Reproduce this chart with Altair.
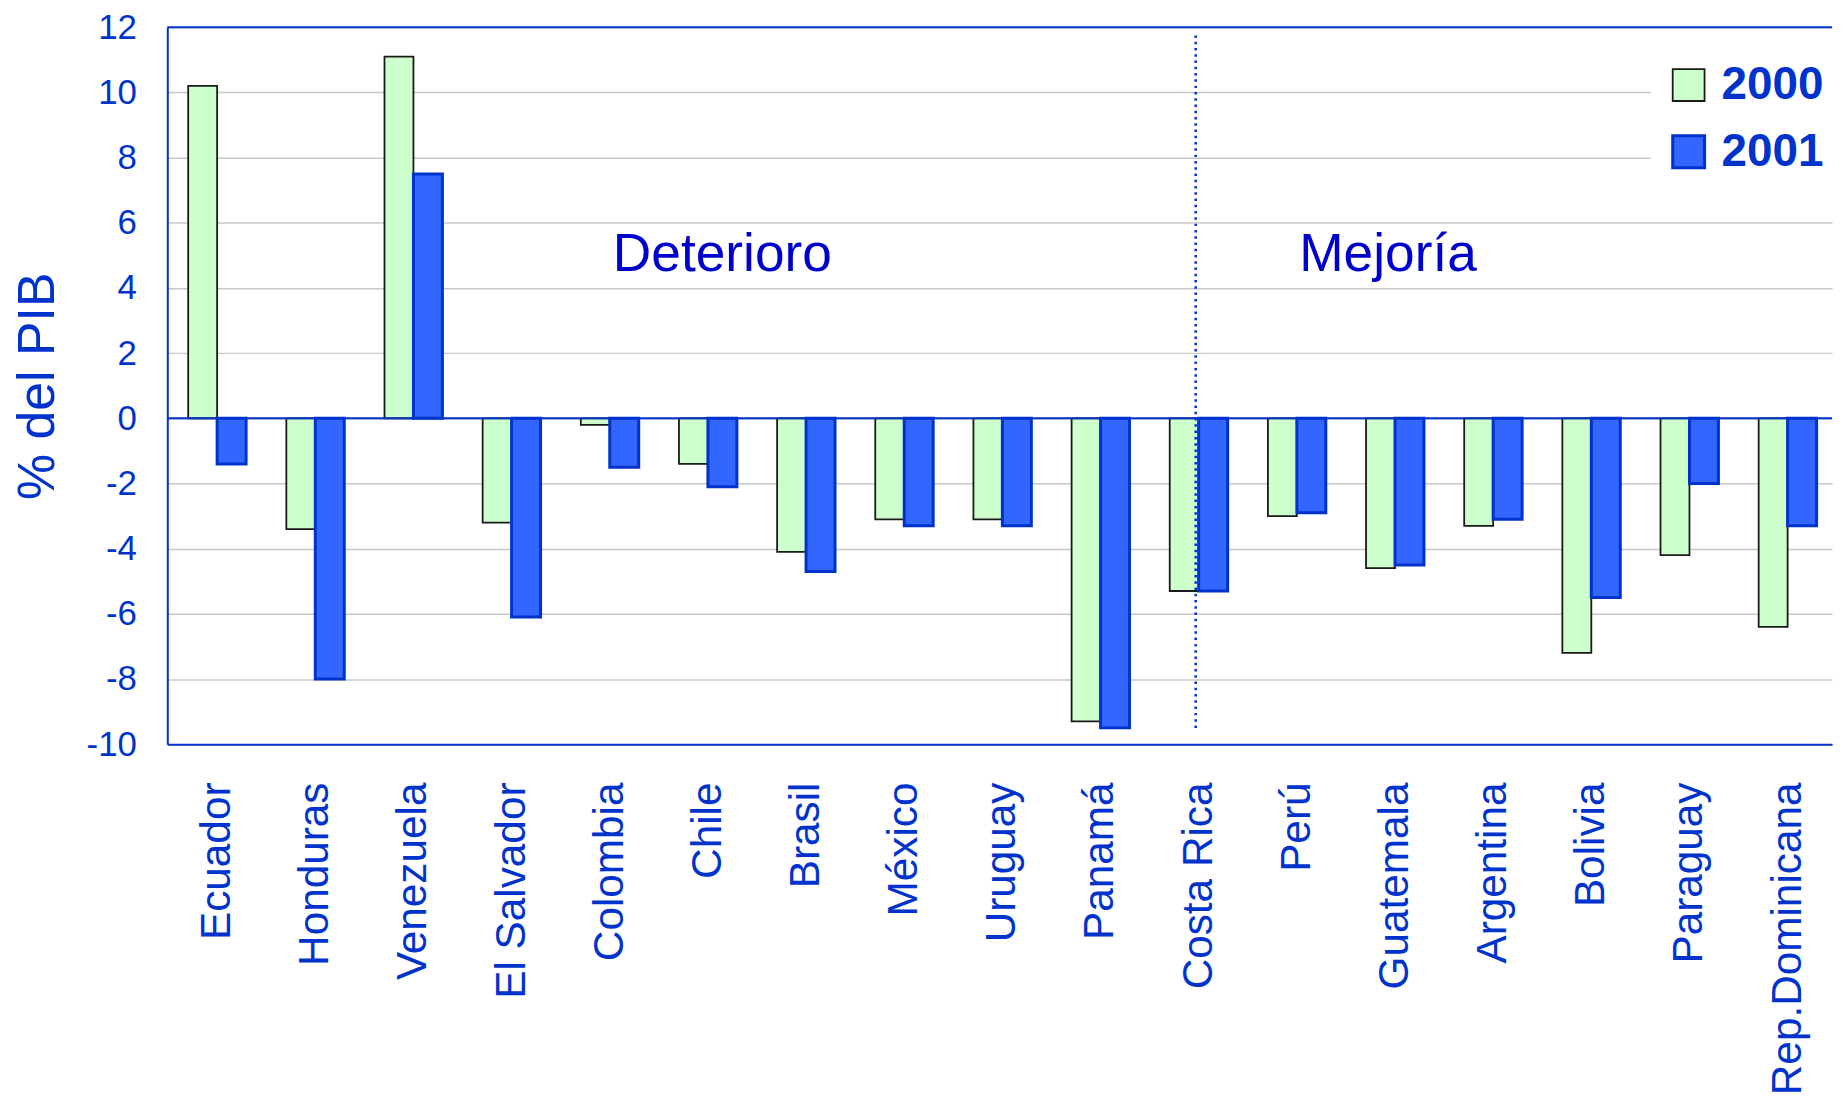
import altair as alt
import pandas as pd

countries = ["Ecuador", "Honduras", "Venezuela", "El Salvador", "Colombia", "Chile",
             "Brasil", "México", "Uruguay", "Panamá", "Costa Rica", "Perú",
             "Guatemala", "Argentina", "Bolivia", "Paraguay", "Rep.Dominicana"]
v2000 = [10.2, -3.4, 11.1, -3.2, -0.2, -1.4, -4.1, -3.1, -3.1, -9.3, -5.3, -3.0, -4.6, -3.3, -7.2, -4.2, -6.4]
v2001 = [-1.4, -8.0, 7.5, -6.1, -1.5, -2.1, -4.7, -3.3, -3.3, -9.5, -5.3, -2.9, -4.5, -3.1, -5.5, -2.0, -3.3]
years = ["2000", "2001"]
y_ticks = [-10, -8, -6, -4, -2, 0, 2, 4, 6, 8, 10, 12]

ann_text = ["Deterioro", "Mejoría"]
ann_country = ["Chile", "Guatemala"]
ann_y = [5.0, 5.0]
ann_dx = [14.5, -7]

divider_country = ["Costa Rica"]
divider_top = [11.75]
divider_bottom = [-9.6]

FONT = "Liberation Sans"
BLUE = "#0033CC"

rows = []
for c, a, b in zip(countries, v2000, v2001):
    rows.append({"country": c, "year": years[0], "value": a})
    rows.append({"country": c, "year": years[1], "value": b})
df = pd.DataFrame(rows)

div_df = pd.DataFrame({"country": divider_country, "top": divider_top, "bottom": divider_bottom})
hlines = pd.DataFrame({"y": [0, 12]})

x_scale = alt.Scale(domain=countries, paddingInner=0.41, paddingOuter=0.185, align=0.575)
y_scale = alt.Scale(domain=[-10, 12], nice=False, zero=False)

x_enc = alt.X("country:N", scale=x_scale, sort=countries,
              axis=alt.Axis(title=None, labelAngle=-90, labelFontSize=42.5, labelFont=FONT,
                            labelColor=BLUE, ticks=False, tickSize=0, labelPadding=38,
                            labelLimit=500,
                            domain=True, domainColor=BLUE, domainWidth=2, grid=False,
                            labelBaseline="middle", labelAlign="right"))
y_enc = alt.Y("value:Q", scale=y_scale,
              axis=alt.Axis(title="% del PIB", values=y_ticks, labelFontSize=35, labelFont=FONT,
                            labelExpr="'' + datum.value",
                            labelColor=BLUE, ticks=False, tickSize=0, labelPadding=31,
                            domain=True, domainColor=BLUE, domainWidth=2,
                            grid=True, gridColor="#C8C8C8", gridWidth=1.5,
                            titleFontSize=52, titleFont=FONT, titleColor=BLUE,
                            titleFontWeight="normal", titleAngle=270, titleX=-114, titleY=360,
                            titleBaseline="alphabetic", titleAlign="center"))

bars = alt.Chart(df).mark_bar().encode(
    x=x_enc,
    xOffset=alt.XOffset("year:N", scale=alt.Scale(domain=years, paddingInner=0, paddingOuter=0)),
    y=y_enc,
    fill=alt.Fill("year:N", scale=alt.Scale(domain=years, range=["#CCFFCC", "#3366FF"]),
                  legend=alt.Legend(title=None, orient="none", legendX=1490, legendY=20)),
    stroke=alt.Stroke("year:N", scale=alt.Scale(domain=years, range=["#1A1A1A", BLUE]),
                      legend=alt.Legend(title=None, orient="none", legendX=1490, legendY=20)),
    strokeWidth=alt.StrokeWidth("year:N", scale=alt.Scale(domain=years, range=[1.8, 3]), legend=None),
)

rules = alt.Chart(hlines).mark_rule(color=BLUE, strokeWidth=2).encode(y=alt.Y("y:Q", scale=y_scale))

divider = alt.Chart(div_df).mark_rule(color=BLUE, strokeWidth=2.5, strokeDash=[2.5, 3.8],
                                      xOffset=-3).encode(
    x=alt.X("country:N", scale=x_scale, sort=countries),
    y=alt.Y("top:Q", scale=y_scale),
    y2="bottom:Q",
)

ann_layers = []
for t, c, yv, d in zip(ann_text, ann_country, ann_y, ann_dx):
    adf = pd.DataFrame({"text": [t], "country": [c], "y": [yv]})
    ann_layers.append(
        alt.Chart(adf).mark_text(font=FONT, fontSize=53.5, color="#0000CC", baseline="middle",
                                 align="center", dx=d).encode(
            x=alt.X("country:N", scale=x_scale, sort=countries),
            y=alt.Y("y:Q", scale=y_scale),
            text="text:N",
        )
    )

chart = alt.layer(bars, rules, divider, *ann_layers).properties(
    width=1672, height=720,
    autosize=alt.AutoSizeParams(type="none"),
    padding={"left": 160, "top": 17, "right": 3, "bottom": 354},
).configure_view(stroke=None).configure_legend(
    symbolType="square", symbolSize=1024, labelFontSize=46, labelFontWeight="bold",
    labelColor=BLUE, labelFont=FONT, labelOffset=10, rowPadding=21, padding=15,
    fillColor="white", symbolStrokeWidth=2, labelLimit=300,
)

chart.save("out.html", embed_options={"renderer": "svg", "actions": False})
